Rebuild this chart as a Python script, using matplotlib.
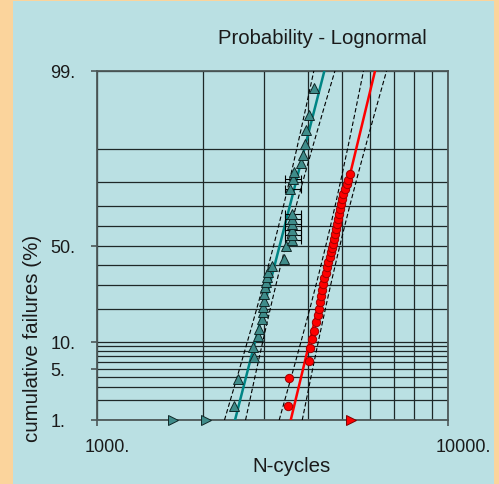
import math
import numpy as np
import matplotlib
matplotlib.use("Agg")
import matplotlib.pyplot as plt
from matplotlib.patches import Rectangle
from matplotlib.transforms import ScaledTranslation
from matplotlib.ticker import FixedLocator, NullFormatter

# ---------------- data ----------------
teal_n = [2461, 2527, 2802, 2787, 2867, 2885, 2946, 2966, 2977, 2981, 2991, 3010,
          3030, 3056, 3076, 3162, 3415, 3449,
          3587, 3587, 3587, 3587, 3587, 3587,
          3547, 3611, 3649, 3805, 3863, 3922, 3940, 4026, 4161]
teal_f = [1.6, 3.8, 6.8, 8.7, 11.3, 13.3, 16.2, 18.8, 20.5, 23.0, 25.9, 28.9,
          31.5, 33.6, 36.0, 39.4, 42.9, 50.0,
          52.8, 55.4, 58.0, 61.4, 64.0, 66.4,
          77.6, 81.4, 83.7, 86.5, 88.6, 91.1, 93.8, 95.9, 98.2]
# interval (inspection) data for the teal set
teal_int_n = [3587, 3587, 3587, 3587, 3587, 3587, 3547, 3611]
teal_int_f = [52.8, 55.4, 58.0, 61.4, 64.0, 66.4, 77.6, 81.4]
teal_int_lo = [3433] * 8
teal_int_hi = [3812] * 8
teal_susp_n = [1650, 2045]

red_n = [3508, 3524, 4018, 4045, 4107, 4161, 4200, 4271, 4291, 4319, 4347, 4385,
         4413, 4442, 4483, 4530, 4560, 4611, 4642, 4681, 4712, 4743, 4765, 4796,
         4818, 4869, 4901, 4923, 4956, 4979, 5031, 5088, 5145, 5179, 5258]
red_f = [1.6, 3.9, 6.2, 8.5, 10.6, 12.8, 15.3, 17.7, 19.9, 22.4, 25.2, 27.7,
         30.4, 33.1, 35.7, 38.6, 41.1, 43.8, 46.4, 48.5, 50.8, 53.5, 56.1, 58.7,
         61.3, 63.8, 66.3, 68.7, 71.0, 73.2, 75.4, 77.4, 79.4, 81.0, 83.0]
red_susp_n = [5300]

# fitted lognormal parameters (median, sigma in log10) and bound widths
teal_median, teal_sigma = 3315, 0.0547
teal_bound_a, teal_bound_b = 0.0171, 0.0106
red_median, red_sigma = 4699, 0.0516
red_bound_a, red_bound_b = 0.0200, 0.0112

y_major = [1, 5, 10, 50, 99]
y_major_labels = ["1.", "5.", "10.", "50.", "99."]
y_grid = [2, 3, 4, 6, 7, 8, 9, 20, 30, 40, 60, 70, 80, 90]
x_major = [1000, 10000]
x_major_labels = ["1000.", "10000."]
x_grid = [2000, 3000, 4000, 5000, 6000, 7000, 8000, 9000]

# ---------------- probability scale helpers ----------------
_erf = np.vectorize(math.erf)


def probit(p):
    p = np.clip(np.asarray(p, float), 1e-9, 1 - 1e-9)
    a = [-3.969683028665376e+01, 2.209460984245205e+02, -2.759285104469687e+02,
         1.383577518672690e+02, -3.066479806614716e+01, 2.506628277459239e+00]
    b = [-5.447609879822406e+01, 1.615858368580409e+02, -1.556989798598866e+02,
         6.680131188771972e+01, -1.328068155288572e+01]
    c = [-7.784894002430293e-03, -3.223964580411365e-01, -2.400758277161838e+00,
         -2.549732539343734e+00, 4.374664141464968e+00, 2.938163982698783e+00]
    d = [7.784695709041462e-03, 3.224671290700398e-01, 2.445134137142996e+00,
         3.754408661907416e+00]
    plow = 0.02425
    q = np.sqrt(-2 * np.log(np.where(p < 0.5, p, 1 - p)))
    tail = (((((c[0]*q+c[1])*q+c[2])*q+c[3])*q+c[4])*q+c[5]) / \
           ((((d[0]*q+d[1])*q+d[2])*q+d[3])*q+1)
    tail = np.where(p < 0.5, tail, -tail)
    r = p - 0.5
    r2 = r * r
    mid = (((((a[0]*r2+a[1])*r2+a[2])*r2+a[3])*r2+a[4])*r2+a[5])*r / \
          (((((b[0]*r2+b[1])*r2+b[2])*r2+b[3])*r2+b[4])*r2+1)
    return np.where((p < plow) | (p > 1 - plow), tail, mid)


def fwd(pct):
    return probit(np.asarray(pct, float) / 100.0)


def inv(z):
    z = np.asarray(z, float)
    return 100.0 * 0.5 * (1.0 + _erf(z / math.sqrt(2.0)))


# ---------------- figure ----------------
BLUE = "#bae0e3"
ORANGE = "#fbd49c"
fig = plt.figure(figsize=(4.99, 4.85), dpi=100, facecolor=ORANGE)
bg = Rectangle((13/499, 0), (494-13)/499, (485-2)/485,
               transform=fig.transFigure, facecolor=BLUE,
               edgecolor="none", zorder=-10)
fig.add_artist(bg)
ax = fig.add_axes([97/499, (485-421)/485, 351/499, 349/485])
ax.set_zorder(1)
ax.set_facecolor(BLUE)
ax.set_xscale("log")
ax.set_yscale("function", functions=(fwd, inv))
ax.set_xlim(1000, 10000)
ax.set_ylim(1, 99)

FONT = "Liberation Sans"
GRIDC = "#1e2828"
ax.xaxis.set_major_locator(FixedLocator(x_major))
ax.xaxis.set_minor_locator(FixedLocator(x_grid))
ax.yaxis.set_major_locator(FixedLocator(y_major))
ax.yaxis.set_minor_locator(FixedLocator(y_grid))
ax.set_xticklabels(x_major_labels)
ax.set_yticklabels(y_major_labels)
ax.xaxis.set_minor_formatter(NullFormatter())
ax.yaxis.set_minor_formatter(NullFormatter())
ax.grid(True, which="both", color=GRIDC, lw=0.9)
ax.set_axisbelow(True)
for s in ax.spines.values():
    s.set_color("#4d5858")
    s.set_linewidth(1.3)
ax.tick_params(which="major", direction="out", length=4, width=1.2, color="#4d5858")
ax.tick_params(which="minor", length=0)
ax.tick_params(axis="y", which="major", pad=29.5, labelsize=13)
ax.tick_params(axis="x", which="major", pad=9, labelsize=13)
for lab in ax.get_yticklabels():
    lab.set_horizontalalignment("left")
    lab.set_fontfamily(FONT)
    lab.set_color("#1a1a1a")
for lab in ax.get_xticklabels():
    lab.set_horizontalalignment("left")
    lab.set_fontfamily(FONT)
    lab.set_color("#1a1a1a")
    lab.set_transform(lab.get_transform() +
                      ScaledTranslation(-12/100, 0, fig.dpi_scale_trans))

# ---------------- fitted lines and bounds ----------------
pgrid = np.linspace(1, 99, 300)
z = fwd(pgrid)


def draw_fit(median, sigma, ba, bb, color):
    lx = np.log10(median) + z * sigma
    w = np.sqrt(ba**2 + (bb * z)**2)
    ax.plot(10**lx, pgrid, color=color, lw=1.8, zorder=4)
    for sgn in (-1, 1):
        ax.plot(10**(lx + sgn * w), pgrid, color="black", lw=0.8,
                dashes=(4, 2.2), zorder=3)


draw_fit(teal_median, teal_sigma, teal_bound_a, teal_bound_b, "#008585")
draw_fit(red_median, red_sigma, red_bound_a, red_bound_b, "#ff0000")

# interval error bars
xerr = [np.array(teal_int_n) - np.array(teal_int_lo),
        np.array(teal_int_hi) - np.array(teal_int_n)]
ax.errorbar(teal_int_n, teal_int_f, xerr=xerr, fmt="none", ecolor="black",
            elinewidth=0.8, capsize=3, capthick=0.8, zorder=5)

# points
ax.plot(teal_n, teal_f, ls="none", marker="^", ms=6.5, mfc="#3f8c8a",
        mec="#102828", mew=0.7, zorder=6)
ax.plot(red_n, red_f, ls="none", marker="o", ms=6, mfc="#ff0000",
        mec="#a00000", mew=0.7, zorder=6)
ax.plot(teal_susp_n, [1] * len(teal_susp_n), ls="none", marker=">", ms=6.5,
        mfc="#3f8c8a", mec="#102828", mew=0.7, zorder=7, clip_on=False)
ax.plot(red_susp_n, [1] * len(red_susp_n), ls="none", marker=">", ms=6.5,
        mfc="#ff0000", mec="#800000", mew=0.7, zorder=7, clip_on=False)

# ---------------- texts ----------------
ax.text((322-97)/351, (421-38)/349, "Probability - Lognormal",
        transform=ax.transAxes, ha="center", va="center", fontsize=14.6,
        family=FONT, color="#1a1a1a")
ax.set_xlabel("N-cycles", fontsize=14.8, family=FONT, color="#1a1a1a")
ax.set_ylabel("cumulative failures (%)", fontsize=14.8, family=FONT, color="#1a1a1a")
ax.xaxis.set_label_coords((292-97)/351, (421-467)/349)
ax.xaxis.label.set_va("center")
ax.yaxis.set_label_coords((33-97)/351, (421-338)/349)
ax.yaxis.label.set_va("center")

fig.savefig("out.png", dpi=100, facecolor=ORANGE)
